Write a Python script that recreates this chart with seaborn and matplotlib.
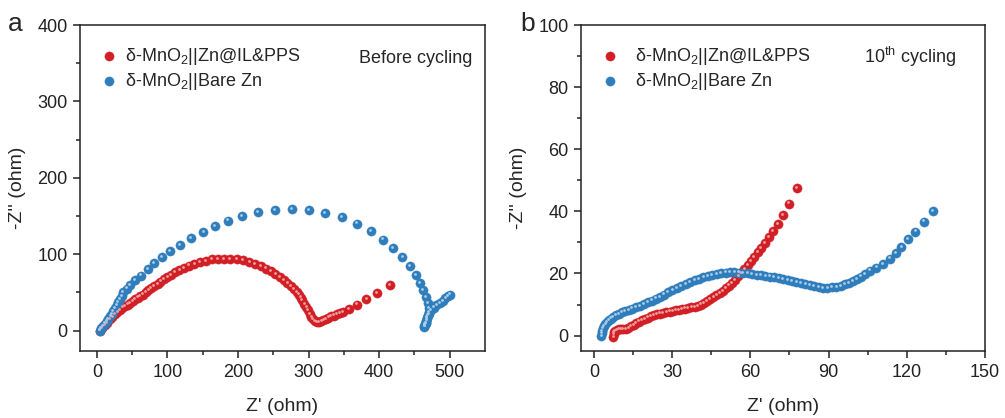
import seaborn as sns
import matplotlib.pyplot as plt
import matplotlib.transforms as mtransforms
import pandas as pd

# panel a - before cycling
a_il_x = [4, 7, 11, 14, 18, 22, 25, 29, 33, 36, 40, 44, 47, 51, 54, 58, 61, 65, 69, 73, 77, 81, 86, 90, 95,
          100, 105, 111, 117, 123, 130, 138, 146, 154, 163, 171, 180, 189, 198, 207, 216, 224, 232, 240, 247,
          253, 259, 265, 270, 275, 279, 283, 286, 289, 291, 294, 297, 299, 302, 304, 306, 309, 312, 315, 318,
          321, 325, 328, 332, 336, 340, 344, 349, 357, 369, 382, 397, 415]
a_il_y = [0, 3, 7, 10, 15, 18, 22, 24, 27, 30, 32, 34, 36, 38, 41, 43, 45, 47, 50, 53, 56, 58, 61, 64, 67,
          70, 73, 76, 79, 82, 85, 87, 89.5, 91, 93, 94, 94, 94, 93, 92, 90, 87, 84.6, 81, 78, 74, 70, 66, 62,
          58, 54, 50, 47, 43, 39.5, 35, 31, 27, 22, 18, 15.4, 12, 11, 11.5, 12, 13.5, 15.4, 17, 18.4, 19.5,
          21, 22.5, 24, 28, 34, 41, 49, 59]
a_bare_x = [4, 6, 9, 11, 14, 16, 19, 21, 23, 26, 28, 30, 33, 35, 37, 42, 47, 54, 62, 72, 81, 92, 103, 118,
            133, 151, 167, 186, 206, 228, 252, 276, 300, 323, 347, 369, 388, 405, 420, 433, 443, 452, 458,
            462, 466, 469, 471, 470, 469, 468, 467, 466, 465, 464, 464, 465, 466, 467, 468, 470, 473, 477,
            481, 486, 490, 494, 497, 500]
a_bare_y = [0, 3, 6, 9, 12, 15, 19, 22, 25, 29, 33, 37, 41, 45, 50, 55, 59, 66, 72, 80, 88, 96, 104, 112,
            121, 129, 137, 144, 150, 155, 158, 159, 158, 154, 148, 140, 130, 119, 108, 96, 84, 73, 62, 53,
            44, 36, 29, 24, 20, 16, 13, 10, 8, 6, 5, 7, 10, 13, 17, 22, 27, 30, 33, 36, 39, 42, 45, 47]

# panel b - 10th cycling
b_il_x = [7.5, 7.6, 7.8, 8.2, 8.8, 9.5, 10.3, 11.2, 12.2, 13.2, 14.2, 15.2, 16.2, 17.3, 18.4, 19.5, 20.6,
          21.8, 23, 24.2, 25.4, 26.6, 27.8, 29, 30.2, 31.4, 32.6, 33.8, 35, 36.2, 37.4, 38.6, 39.8, 41, 42.2,
          43.4, 44.6, 45.8, 47, 48.2, 49.4, 50.6, 51.8, 53, 54.2, 55.4, 56.5, 57.7, 59, 60.2, 61.5, 62.8,
          64.2, 65.5, 67, 68.7, 70.5, 72.6, 74.9, 78]
b_il_y = [-0.4, 0.5, 1.1, 1.5, 1.8, 2, 2.1, 2.1, 2.2, 2.5, 3, 3.5, 4, 4.5, 5, 5.4, 5.8, 6.2, 6.5, 6.8, 7.1,
          7.3, 7.5, 7.7, 7.9, 8.1, 8.3, 8.5, 8.7, 8.9, 9.1, 9.3, 9.6, 10, 10.5, 11.1, 11.7, 12.3, 13, 13.7,
          14.4, 15.2, 16.1, 17, 18, 19.1, 20.2, 21.4, 22.7, 24, 25.4, 26.8, 28.3, 29.9, 31.7, 33.7, 36, 38.8,
          42.5, 47.6]
b_bare_x = [2.9, 3, 3.2, 3.5, 3.9, 4.4, 5, 5.7, 6.5, 7.4, 8.4, 9.5, 10.7, 12, 13.3, 14.7, 16.1, 17.6, 19.1,
            20.6, 22.1, 23.7, 25.3, 26.9, 28.5, 30.1, 31.8, 33.5, 35.2, 36.9, 38.6, 40.3, 42, 43.7, 45.4,
            47.1, 48.8, 50.5, 52.2, 53.9, 55.6, 57.3, 59, 60.7, 62.4, 64.1, 65.8, 67.5, 69.2, 70.9, 72.6,
            74.3, 76, 77.7, 79.4, 81.1, 82.8, 84.5, 86.2, 87.9, 89.6, 91.3, 93, 94.7, 96.3, 97.9, 99.5, 101,
            102.5, 104, 106, 108.4, 111, 113.5, 115.8, 118, 120.5, 123.3, 126.5, 130]
b_bare_y = [-0.2, 0.7, 1.5, 2.3, 3, 3.7, 4.3, 4.9, 5.5, 6, 6.5, 7, 7.5, 7.9, 8.3, 8.7, 9.1, 9.6, 10.1,
            10.7, 11.3, 11.9, 12.5, 13.2, 13.9, 14.6, 15.3, 16, 16.7, 17.3, 17.8, 18.3, 18.8, 19.2, 19.6,
            19.9, 20.1, 20.3, 20.4, 20.4, 20.3, 20.2, 20, 19.8, 19.6, 19.4, 19.2, 19, 18.8, 18.5, 18.2,
            17.9, 17.6, 17.3, 17, 16.6, 16.2, 15.9, 15.6, 15.4, 15.4, 15.5, 15.7, 16, 16.5, 17, 17.6, 18.3,
            19, 19.9, 20.9, 21.9, 23.1, 24.8, 26.5, 28.6, 31, 33.5, 36.7, 40.2]

red = "#d21f26"
blue = "#2f7dbb"
leg_il = r"δ-MnO$_2$||Zn@IL&PPS"
leg_bare = r"δ-MnO$_2$||Bare Zn"

sns.set_style("ticks")
plt.rcParams['font.family'] = ['Liberation Sans', 'DejaVu Sans']
plt.rcParams['mathtext.fontset'] = 'custom'
plt.rcParams['mathtext.rm'] = 'Liberation Sans'
plt.rcParams['mathtext.it'] = 'Liberation Sans'

fig = plt.figure(figsize=(10.05, 4.18), dpi=100)
ax1 = fig.add_axes([0.0796, 0.160, 0.403, 0.780])
ax2 = fig.add_axes([0.578, 0.160, 0.402, 0.780])


def draw(ax, x1, y1, x2, y2):
    d1 = pd.DataFrame({"x": x1, "y": y1})
    d2 = pd.DataFrame({"x": x2, "y": y2})
    sns.scatterplot(data=d1, x="x", y="y", color=red, s=44, edgecolor=red, linewidth=0.3,
                    ax=ax, label=leg_il, zorder=3)
    sns.scatterplot(data=d2, x="x", y="y", color=blue, s=44, edgecolor=blue, linewidth=0.3,
                    ax=ax, label=leg_bare, zorder=3)
    # small offset highlight for the glossy look
    shift = mtransforms.offset_copy(ax.transData, fig=fig, x=-0.8, y=1.2, units="dots")
    ax.scatter(d1.x, d1.y, s=4, color="#f0a0a0", zorder=4, linewidths=0, transform=shift)
    ax.scatter(d2.x, d2.y, s=4, color="#a9cdea", zorder=4, linewidths=0, transform=shift)
    for sp in ax.spines.values():
        sp.set_linewidth(1.1)
        sp.set_color("#222222")
    ax.tick_params(which="both", direction="out", labelsize=13, width=1.1, colors="#222222", pad=4)
    ax.tick_params(which="major", length=5)
    ax.tick_params(which="minor", length=3)
    ax.set_xlabel("Z' (ohm)", fontsize=14)
    ax.xaxis.set_label_coords(0.5, -0.145)
    ax.set_ylabel("-Z'' (ohm)", fontsize=14, labelpad=8)


draw(ax1, a_il_x, a_il_y, a_bare_x, a_bare_y)
ax1.set_xlim(-24, 550)
ax1.set_ylim(-27, 400)
ax1.set_xticks([0, 100, 200, 300, 400, 500])
ax1.set_xticks(range(50, 550, 100), minor=True)
ax1.set_yticks([0, 100, 200, 300, 400])
ax1.set_yticks(range(50, 400, 100), minor=True)
ax1.legend(loc="upper left", bbox_to_anchor=(0.0, 0.97), frameon=False, fontsize=13,
           handletextpad=-0.1, labelspacing=0.25, borderaxespad=0.2)
ax1.text(0.97, 0.885, "Before cycling", transform=ax1.transAxes, ha="right", fontsize=13)
fig.text(0.008, 0.925, "a", fontsize=19)

draw(ax2, b_il_x, b_il_y, b_bare_x, b_bare_y)
ax2.set_xlim(-5, 150)
ax2.set_ylim(-5, 100)
ax2.set_xticks([0, 30, 60, 90, 120, 150])
ax2.set_xticks(range(15, 150, 30), minor=True)
ax2.set_yticks([0, 20, 40, 60, 80, 100])
ax2.set_yticks(range(10, 100, 20), minor=True)
ax2.legend(loc="upper left", bbox_to_anchor=(0.0, 0.97), frameon=False, fontsize=13,
           handletextpad=0.4, labelspacing=0.25, borderaxespad=0.2)
ax2.text(0.93, 0.885, r"10$^{th}$ cycling", transform=ax2.transAxes, ha="right", fontsize=13)
fig.text(0.518, 0.925, "b", fontsize=19)

fig.savefig("out.png", dpi=100)
